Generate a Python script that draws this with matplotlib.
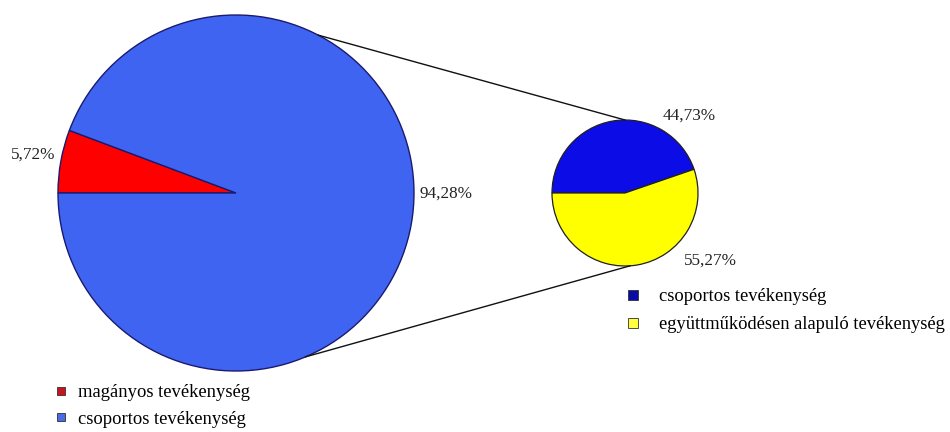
import numpy as np
import matplotlib.pyplot as plt
from matplotlib.lines import Line2D

# main pie and the breakdown of its second slice
main_labels = ["magányos tevékenység", "csoportos tevékenység"]
main_values = [5.72, 94.28]
main_colors = ["#ff0000", "#3f64f2"]

sub_labels = ["csoportos tevékenység", "együttműködésen alapuló tevékenység"]
sub_values = [44.73, 55.27]
sub_colors = ["#0c0ce6", "#ffff00"]

plt.rcParams["font.family"] = ["Liberation Serif", "DejaVu Serif"]

W, H = 950, 432
fig = plt.figure(figsize=(W / 100, H / 100), dpi=100)
ax = fig.add_axes([0, 0, 1, 1])

# geometry in pixel units (y measured from the bottom)
big_c, big_r = (236, H - 193), 178
small_c, small_r = (625, H - 193), 73

ax.pie(main_values, colors=main_colors, startangle=180, counterclock=False,
       center=big_c, radius=big_r, frame=True,
       wedgeprops=dict(edgecolor="#1a1a70", linewidth=1.0))
ax.pie(sub_values, colors=sub_colors, startangle=180, counterclock=False,
       center=small_c, radius=small_r, frame=True,
       wedgeprops=dict(edgecolor="#202020", linewidth=0.9))
ax.set_xlim(0, W)
ax.set_ylim(0, H)
ax.set_aspect("equal")
ax.axis("off")

# connector lines between the pies
def on_circle(c, r, deg):
    a = np.deg2rad(deg)
    return c[0] + r * np.cos(a), c[1] + r * np.sin(a)

for a_big, a_small in [(62.5, 90), (-67, -86)]:
    x0, y0 = on_circle(big_c, big_r, a_big)
    x1, y1 = on_circle(small_c, small_r, a_small)
    ax.plot([x0, x1], [y0, y1], color="#111111", lw=1.0)

# percentage labels
def pct(v):
    return f"{v:.2f}%".replace(".", ",")

fs_lab = 12.3
ax.text(11, H - 155, pct(main_values[0]), fontsize=fs_lab,
        ha="left", va="center", color="#222222")
ax.text(420, H - 194, pct(main_values[1]), fontsize=fs_lab,
        ha="left", va="center", color="#222222")
ax.text(663, H - 116, pct(sub_values[0]), fontsize=fs_lab,
        ha="left", va="center", color="#222222")
ax.text(684, H - 261, pct(sub_values[1]), fontsize=fs_lab,
        ha="left", va="center", color="#222222")

# legends
h1 = [Line2D([], [], ls="none", marker="s", markersize=5.5,
             markerfacecolor=c, markeredgecolor="#303030", markeredgewidth=0.6)
      for c in ["#c8141e", "#4a6ae6"]]
leg1 = ax.legend(h1, main_labels, loc="upper left", bbox_to_anchor=(55, H - 384),
                 bbox_transform=ax.transData, frameon=False, fontsize=13.4,
                 handlelength=0.6, handletextpad=0.62, labelspacing=0.52,
                 borderpad=0, borderaxespad=0)
ax.add_artist(leg1)

h2 = [Line2D([], [], ls="none", marker="s", markersize=6.5,
             markerfacecolor=c, markeredgecolor="#303030", markeredgewidth=0.6)
      for c in ["#0a0aa8", "#ffff40"]]
ax.legend(h2, sub_labels, loc="upper left", bbox_to_anchor=(627, H - 288),
          bbox_transform=ax.transData, frameon=False, fontsize=13.3,
          handlelength=0.6, handletextpad=1.12, labelspacing=0.62,
          borderpad=0, borderaxespad=0)

fig.savefig("out.png", dpi=100)
